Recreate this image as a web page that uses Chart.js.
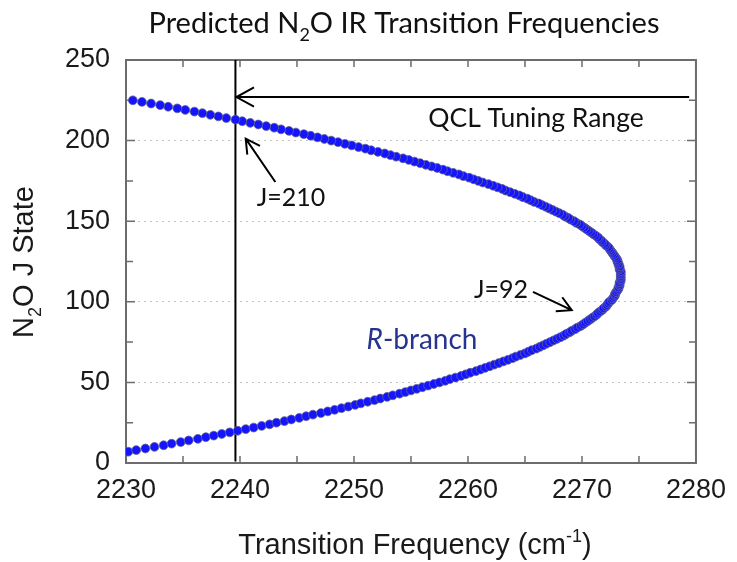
<!DOCTYPE html>
<html lang="en">
<head>
<meta charset="UTF-8">
<title>N2O IR Transition Frequencies</title>
<script src="https://cdn.jsdelivr.net/npm/chart.js"></script>
<style>
  body { margin: 0; background: #fff; }
</style>
</head>
<body>
<canvas id="ctx" width="737" height="562"></canvas>
<script>
// R-branch lines: rotational state J and its transition frequency (cm-1)
const jStates = [
  7, 8, 9, 10, 11, 12, 13, 14, 15, 16, 17, 18, 19, 20, 21, 22, 23, 24, 25, 26,
  27, 28, 29, 30, 31, 32, 33, 34, 35, 36, 37, 38, 39, 40, 41, 42, 43, 44, 45, 46,
  47, 48, 49, 50, 51, 52, 53, 54, 55, 56, 57, 58, 59, 60, 61, 62, 63, 64, 65, 66,
  67, 68, 69, 70, 71, 72, 73, 74, 75, 76, 77, 78, 79, 80, 81, 82, 83, 84, 85, 86,
  87, 88, 89, 90, 91, 92, 93, 94, 95, 96, 97, 98, 99, 100, 101, 102, 103, 104, 105, 106,
  107, 108, 109, 110, 111, 112, 113, 114, 115, 116, 117, 118, 119, 120, 121, 122, 123, 124, 125, 126,
  127, 128, 129, 130, 131, 132, 133, 134, 135, 136, 137, 138, 139, 140, 141, 142, 143, 144, 145, 146,
  147, 148, 149, 150, 151, 152, 153, 154, 155, 156, 157, 158, 159, 160, 161, 162, 163, 164, 165, 166,
  167, 168, 169, 170, 171, 172, 173, 174, 175, 176, 177, 178, 179, 180, 181, 182, 183, 184, 185, 186,
  187, 188, 189, 190, 191, 192, 193, 194, 195, 196, 197, 198, 199, 200, 201, 202, 203, 204, 205, 206,
  207, 208, 209, 210, 211, 212, 213, 214, 215, 216, 217, 218, 219, 220, 221, 222, 223, 224, 225
];
const frequencies = [
  2230.2, 2230.9, 2231.7, 2232.5, 2233.3, 2234.0, 2234.8, 2235.5, 2236.3, 2237.0,
  2237.7, 2238.4, 2239.1, 2239.8, 2240.5, 2241.2, 2241.9, 2242.6, 2243.2, 2243.9,
  2244.5, 2245.2, 2245.8, 2246.4, 2247.1, 2247.7, 2248.3, 2248.9, 2249.5, 2250.1,
  2250.6, 2251.2, 2251.8, 2252.3, 2252.9, 2253.4, 2254.0, 2254.5, 2255.0, 2255.5,
  2256.0, 2256.5, 2257.0, 2257.5, 2258.0, 2258.4, 2258.9, 2259.4, 2259.8, 2260.2,
  2260.7, 2261.1, 2261.5, 2261.9, 2262.3, 2262.7, 2263.1, 2263.5, 2263.9, 2264.2,
  2264.6, 2265.0, 2265.3, 2265.6, 2266.0, 2266.3, 2266.6, 2266.9, 2267.2, 2267.5,
  2267.8, 2268.1, 2268.4, 2268.6, 2268.9, 2269.1, 2269.4, 2269.6, 2269.9, 2270.1,
  2270.3, 2270.5, 2270.7, 2270.9, 2271.1, 2271.3, 2271.4, 2271.6, 2271.8, 2271.9,
  2272.1, 2272.2, 2272.3, 2272.4, 2272.6, 2272.7, 2272.8, 2272.9, 2272.9, 2273.0,
  2273.1, 2273.2, 2273.2, 2273.3, 2273.3, 2273.3, 2273.4, 2273.4, 2273.4, 2273.4,
  2273.4, 2273.4, 2273.4, 2273.3, 2273.3, 2273.3, 2273.2, 2273.2, 2273.1, 2273.1,
  2273.0, 2272.9, 2272.8, 2272.7, 2272.6, 2272.5, 2272.4, 2272.3, 2272.1, 2272.0,
  2271.8, 2271.7, 2271.5, 2271.4, 2271.2, 2271.0, 2270.8, 2270.6, 2270.4, 2270.2,
  2270.0, 2269.8, 2269.5, 2269.3, 2269.0, 2268.8, 2268.5, 2268.3, 2268.0, 2267.7,
  2267.4, 2267.1, 2266.8, 2266.5, 2266.2, 2265.8, 2265.5, 2265.2, 2264.8, 2264.5,
  2264.1, 2263.7, 2263.3, 2263.0, 2262.6, 2262.2, 2261.8, 2261.3, 2260.9, 2260.5,
  2260.1, 2259.6, 2259.2, 2258.7, 2258.2, 2257.8, 2257.3, 2256.8, 2256.3, 2255.8,
  2255.3, 2254.8, 2254.3, 2253.7, 2253.2, 2252.7, 2252.1, 2251.5, 2251.0, 2250.4,
  2249.8, 2249.2, 2248.6, 2248.0, 2247.4, 2246.8, 2246.2, 2245.6, 2244.9, 2244.3,
  2243.6, 2243.0, 2242.3, 2241.6, 2240.9, 2240.2, 2239.6, 2238.8, 2238.1, 2237.4,
  2236.7, 2236.0, 2235.2, 2234.5, 2233.7, 2233.0, 2232.2, 2231.4, 2230.6
];
const xTickValues = [2230, 2240, 2250, 2260, 2270, 2280];
const yTickValues = [0, 50, 100, 150, 200, 250];

// laser tuning window: starts at the vertical line, arrow drawn at J = 227
const qclStart = 2239.6;
const qclEnd = 2279.4;
const qclLevel = 227;

const FONT_AXIS = '"Liberation Sans", Arial, sans-serif';
const FONT_NOTE = 'Lato, "Open Sans", sans-serif';

function partFont(p, size, family) {
  const small = p[1] === 'sub' || p[1] === 'sup';
  const s = small ? Math.round(size * 0.62) : size;
  return (p[1] === 'i' ? 'italic ' : '') + s + 'px ' + family;
}

// draws text made of pieces like ['N', ''], ['2', 'sub'], ['R', 'i']
function richText(ctx, parts, x, y, size, family, align) {
  const widths = parts.map(p => { ctx.font = partFont(p, size, family); return ctx.measureText(p[0]).width; });
  const total = widths.reduce((a, b) => a + b, 0);
  let cx = align === 'center' ? x - total / 2 : x;
  ctx.textAlign = 'left';
  ctx.textBaseline = 'alphabetic';
  parts.forEach((p, i) => {
    ctx.font = partFont(p, size, family);
    const dy = p[1] === 'sub' ? size * 0.27 : p[1] === 'sup' ? -size * 0.42 : 0;
    ctx.fillText(p[0], cx, y + dy);
    cx += widths[i];
  });
}

function arrow(ctx, x1, y1, x2, y2, head) {
  const a = Math.atan2(y2 - y1, x2 - x1);
  ctx.beginPath();
  ctx.moveTo(x1, y1);
  ctx.lineTo(x2, y2);
  ctx.moveTo(x2 - head * Math.cos(a - 0.5), y2 - head * Math.sin(a - 0.5));
  ctx.lineTo(x2, y2);
  ctx.lineTo(x2 - head * Math.cos(a + 0.5), y2 - head * Math.sin(a + 0.5));
  ctx.stroke();
}

const decorations = {
  id: 'decorations',
  beforeDatasetsDraw(chart) {
    const { ctx, chartArea: a, scales: { x, y } } = chart;
    ctx.save();
    // plot frame
    ctx.strokeStyle = '#6c6c6c';
    ctx.lineWidth = 2;
    ctx.strokeRect(a.left, a.top, a.right - a.left, a.bottom - a.top);
    // inward tick marks
    ctx.lineWidth = 1.5;
    ctx.beginPath();
    for (let v = 2235; v < 2280; v += 5) {
      const px = x.getPixelForValue(v);
      ctx.moveTo(px, a.bottom); ctx.lineTo(px, a.bottom - 7);
      ctx.moveTo(px, a.top); ctx.lineTo(px, a.top + 7);
    }
    for (let v = 25; v < 250; v += 25) {
      const py = y.getPixelForValue(v);
      const len = v % 50 === 0 ? 9 : 7;
      ctx.moveTo(a.left, py); ctx.lineTo(a.left + len, py);
      ctx.moveTo(a.right, py); ctx.lineTo(a.right - len, py);
    }
    ctx.stroke();
    // vertical marker at the start of the tuning range
    ctx.strokeStyle = '#000';
    ctx.lineWidth = 2;
    ctx.beginPath();
    ctx.moveTo(x.getPixelForValue(qclStart), a.top);
    ctx.lineTo(x.getPixelForValue(qclStart), y.getPixelForValue(1));
    ctx.stroke();
    ctx.restore();
  },
  afterDatasetsDraw(chart) {
    const { ctx, scales: { x, y } } = chart;
    ctx.save();
    ctx.strokeStyle = '#000';
    ctx.fillStyle = '#111';
    ctx.lineWidth = 2;
    arrow(ctx, x.getPixelForValue(qclEnd), y.getPixelForValue(qclLevel),
      x.getPixelForValue(qclStart) + 1, y.getPixelForValue(qclLevel), 20);
    arrow(ctx, x.getPixelForValue(2243.1), y.getPixelForValue(174.3),
      x.getPixelForValue(2240.5), y.getPixelForValue(201.2), 16);
    arrow(ctx, x.getPixelForValue(2265.7), y.getPixelForValue(106.1),
      x.getPixelForValue(2269.1), y.getPixelForValue(94.8), 16);

    richText(ctx, [['QCL Tuning Range', '']], 536, 127, 26.5, FONT_NOTE, 'center');
    richText(ctx, [['J=210', '']], 291, 206, 25, FONT_NOTE, 'center');
    richText(ctx, [['J=92', '']], 501, 298, 25, FONT_NOTE, 'center');
    ctx.fillStyle = '#26348f';
    richText(ctx, [['R', 'i'], ['-branch', '']], 422, 349, 28, FONT_NOTE, 'center');

    // chart title
    ctx.fillStyle = '#111';
    richText(ctx, [['Predicted N', ''], ['2', 'sub'], ['O IR Transition Frequencies', '']],
      404, 33, 29, FONT_NOTE, 'center');
    // axis titles
    ctx.fillStyle = '#1a1a1a';
    richText(ctx, [['Transition Frequency (cm', ''], ['-1', 'sup'], [')', '']],
      415, 554, 29, FONT_AXIS, 'center');
    ctx.translate(23, 262);
    ctx.rotate(-Math.PI / 2);
    richText(ctx, [['N', ''], ['2', 'sub'], ['O J State', '']], 0, 10, 29, FONT_AXIS, 'center');
    ctx.restore();
  }
};

new Chart(document.getElementById('ctx'), {
  type: 'scatter',
  data: {
    datasets: [{
      data: jStates.map((j, i) => ({ x: frequencies[i], y: j })),
      backgroundColor: '#1414ff',
      borderColor: 'rgba(100, 100, 145, 0.8)',
      borderWidth: 1,
      pointRadius: 4.4,
      pointHoverRadius: 4.4
    }]
  },
  options: {
    responsive: false,
    animation: false,
    events: [],
    layout: { padding: { top: 60, right: 35, left: 0, bottom: 0 } },
    plugins: { legend: { display: false }, tooltip: { enabled: false } },
    scales: {
      x: {
        type: 'linear',
        min: 2230,
        max: 2280,
        afterBuildTicks: s => { s.ticks = xTickValues.map(v => ({ value: v })); },
        afterFit: s => { s.height = 99; },
        ticks: {
          font: { family: FONT_AXIS, size: 27 }, color: '#1a1a1a', padding: 11, maxRotation: 0,
          callback: v => String(v)
        },
        grid: { display: false, drawTicks: false },
        border: { display: false }
      },
      y: {
        min: 0,
        max: 250,
        afterBuildTicks: s => { s.ticks = yTickValues.map(v => ({ value: v })); },
        afterFit: s => { s.width = 126; },
        ticks: { font: { family: FONT_AXIS, size: 27 }, color: '#1a1a1a', padding: 16 },
        grid: {
          drawTicks: false,
          lineWidth: 1,
          color: c => (c.tick.value === 0 || c.tick.value === 250) ? 'rgba(0,0,0,0)' : '#c4c4c4'
        },
        border: { display: false, dash: [2, 4] }
      }
    }
  },
  plugins: [decorations]
});
</script>
</body>
</html>
